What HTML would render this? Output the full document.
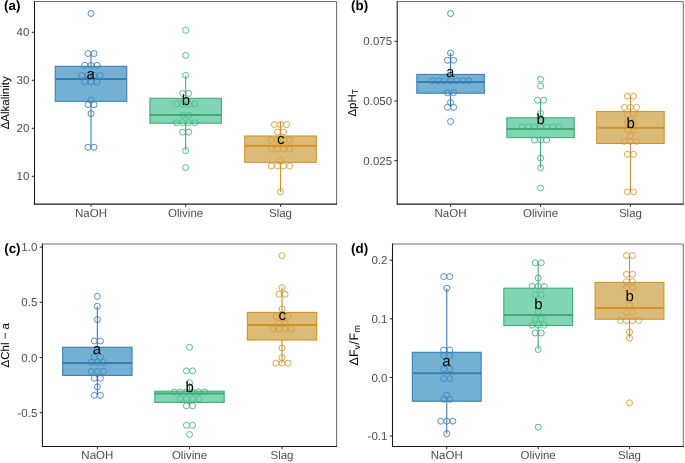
<!DOCTYPE html><html><head><meta charset="utf-8"><style>
html,body{margin:0;padding:0;background:#fff;width:685px;height:463px;overflow:hidden}
svg{display:block;will-change:transform}
text{font-family:"Liberation Sans", sans-serif;text-rendering:geometricPrecision}
</style></head><body>
<svg width="685" height="463" viewBox="0 0 685 463">
<rect x="0" y="0" width="685" height="463" fill="#fff"/>
<circle cx="91" cy="13.5" r="3" fill="none" stroke="#3f80c0" stroke-width="0.9"/>
<circle cx="87.95" cy="53.5" r="3" fill="none" stroke="#3f80c0" stroke-width="0.9"/>
<circle cx="94.05" cy="53.5" r="3" fill="none" stroke="#3f80c0" stroke-width="0.9"/>
<circle cx="84.9" cy="65.3" r="3" fill="none" stroke="#3f80c0" stroke-width="0.9"/>
<circle cx="91" cy="65.3" r="3" fill="none" stroke="#3f80c0" stroke-width="0.9"/>
<circle cx="97.1" cy="65.3" r="3" fill="none" stroke="#3f80c0" stroke-width="0.9"/>
<circle cx="81.85" cy="75.5" r="3" fill="none" stroke="#3f80c0" stroke-width="0.9"/>
<circle cx="87.95" cy="75.5" r="3" fill="none" stroke="#3f80c0" stroke-width="0.9"/>
<circle cx="94.05" cy="75.5" r="3" fill="none" stroke="#3f80c0" stroke-width="0.9"/>
<circle cx="100.15" cy="75.5" r="3" fill="none" stroke="#3f80c0" stroke-width="0.9"/>
<circle cx="84.9" cy="82" r="3" fill="none" stroke="#3f80c0" stroke-width="0.9"/>
<circle cx="91" cy="82" r="3" fill="none" stroke="#3f80c0" stroke-width="0.9"/>
<circle cx="97.1" cy="82" r="3" fill="none" stroke="#3f80c0" stroke-width="0.9"/>
<circle cx="91" cy="100" r="3" fill="none" stroke="#3f80c0" stroke-width="0.9"/>
<circle cx="87.95" cy="104.6" r="3" fill="none" stroke="#3f80c0" stroke-width="0.9"/>
<circle cx="94.05" cy="104.6" r="3" fill="none" stroke="#3f80c0" stroke-width="0.9"/>
<circle cx="91" cy="113.6" r="3" fill="none" stroke="#3f80c0" stroke-width="0.9"/>
<circle cx="87.95" cy="147.3" r="3" fill="none" stroke="#3f80c0" stroke-width="0.9"/>
<circle cx="94.05" cy="147.3" r="3" fill="none" stroke="#3f80c0" stroke-width="0.9"/>
<line x1="91" y1="53.5" x2="91" y2="66.3" stroke="#3a7db6" stroke-width="1.1"/>
<line x1="91" y1="101.3" x2="91" y2="147.1" stroke="#3a7db6" stroke-width="1.1"/>
<rect x="55.25" y="66.3" width="71.5" height="35" fill="#388ebf" fill-opacity="0.7"/>
<rect x="55.25" y="66.3" width="71.5" height="35" fill="none" stroke="#3a7db6" stroke-width="1.1"/>
<line x1="55.25" y1="78.9" x2="126.75" y2="78.9" stroke="#3a7db6" stroke-width="2"/>
<text x="90.6" y="79.3" font-size="15" text-anchor="middle" fill="#000">a</text>
<circle cx="185.65" cy="30.3" r="3" fill="none" stroke="#48b282" stroke-width="0.9"/>
<circle cx="185.65" cy="55.4" r="3" fill="none" stroke="#48b282" stroke-width="0.9"/>
<circle cx="185.65" cy="75.4" r="3" fill="none" stroke="#48b282" stroke-width="0.9"/>
<circle cx="182.6" cy="93.4" r="3" fill="none" stroke="#48b282" stroke-width="0.9"/>
<circle cx="188.7" cy="93.4" r="3" fill="none" stroke="#48b282" stroke-width="0.9"/>
<circle cx="176.5" cy="104" r="3" fill="none" stroke="#48b282" stroke-width="0.9"/>
<circle cx="182.6" cy="104" r="3" fill="none" stroke="#48b282" stroke-width="0.9"/>
<circle cx="188.7" cy="104" r="3" fill="none" stroke="#48b282" stroke-width="0.9"/>
<circle cx="194.8" cy="104" r="3" fill="none" stroke="#48b282" stroke-width="0.9"/>
<circle cx="182.6" cy="115.3" r="3" fill="none" stroke="#48b282" stroke-width="0.9"/>
<circle cx="188.7" cy="115.3" r="3" fill="none" stroke="#48b282" stroke-width="0.9"/>
<circle cx="176.5" cy="122.7" r="3" fill="none" stroke="#48b282" stroke-width="0.9"/>
<circle cx="182.6" cy="122.7" r="3" fill="none" stroke="#48b282" stroke-width="0.9"/>
<circle cx="188.7" cy="122.7" r="3" fill="none" stroke="#48b282" stroke-width="0.9"/>
<circle cx="194.8" cy="122.7" r="3" fill="none" stroke="#48b282" stroke-width="0.9"/>
<circle cx="182.6" cy="132.2" r="3" fill="none" stroke="#48b282" stroke-width="0.9"/>
<circle cx="188.7" cy="132.2" r="3" fill="none" stroke="#48b282" stroke-width="0.9"/>
<circle cx="185.65" cy="150.6" r="3" fill="none" stroke="#48b282" stroke-width="0.9"/>
<circle cx="185.65" cy="167.6" r="3" fill="none" stroke="#48b282" stroke-width="0.9"/>
<line x1="185.65" y1="75.4" x2="185.65" y2="98.3" stroke="#46aa78" stroke-width="1.1"/>
<line x1="185.65" y1="123.2" x2="185.65" y2="150.6" stroke="#46aa78" stroke-width="1.1"/>
<rect x="149.9" y="98.3" width="71.5" height="24.9" fill="#4ac392" fill-opacity="0.7"/>
<rect x="149.9" y="98.3" width="71.5" height="24.9" fill="none" stroke="#46aa78" stroke-width="1.1"/>
<line x1="149.9" y1="114.9" x2="221.4" y2="114.9" stroke="#46aa78" stroke-width="2"/>
<text x="185.85" y="104.6" font-size="15" text-anchor="middle" fill="#000">b</text>
<circle cx="274.4" cy="124.5" r="3" fill="none" stroke="#d89a38" stroke-width="0.9"/>
<circle cx="280.5" cy="124.5" r="3" fill="none" stroke="#d89a38" stroke-width="0.9"/>
<circle cx="286.6" cy="124.5" r="3" fill="none" stroke="#d89a38" stroke-width="0.9"/>
<circle cx="277.45" cy="132" r="3" fill="none" stroke="#d89a38" stroke-width="0.9"/>
<circle cx="283.55" cy="132" r="3" fill="none" stroke="#d89a38" stroke-width="0.9"/>
<circle cx="271.35" cy="140.3" r="3" fill="none" stroke="#d89a38" stroke-width="0.9"/>
<circle cx="277.45" cy="140.3" r="3" fill="none" stroke="#d89a38" stroke-width="0.9"/>
<circle cx="283.55" cy="140.3" r="3" fill="none" stroke="#d89a38" stroke-width="0.9"/>
<circle cx="289.65" cy="140.3" r="3" fill="none" stroke="#d89a38" stroke-width="0.9"/>
<circle cx="271.35" cy="149.1" r="3" fill="none" stroke="#d89a38" stroke-width="0.9"/>
<circle cx="277.45" cy="149.1" r="3" fill="none" stroke="#d89a38" stroke-width="0.9"/>
<circle cx="283.55" cy="149.1" r="3" fill="none" stroke="#d89a38" stroke-width="0.9"/>
<circle cx="289.65" cy="149.1" r="3" fill="none" stroke="#d89a38" stroke-width="0.9"/>
<circle cx="280.5" cy="160.4" r="3" fill="none" stroke="#d89a38" stroke-width="0.9"/>
<circle cx="271.35" cy="166" r="3" fill="none" stroke="#d89a38" stroke-width="0.9"/>
<circle cx="277.45" cy="166" r="3" fill="none" stroke="#d89a38" stroke-width="0.9"/>
<circle cx="283.55" cy="166" r="3" fill="none" stroke="#d89a38" stroke-width="0.9"/>
<circle cx="289.65" cy="166" r="3" fill="none" stroke="#d89a38" stroke-width="0.9"/>
<circle cx="280.5" cy="191.9" r="3" fill="none" stroke="#d89a38" stroke-width="0.9"/>
<line x1="280.5" y1="121.5" x2="280.5" y2="136" stroke="#d2912a" stroke-width="1.1"/>
<line x1="280.5" y1="162.3" x2="280.5" y2="191.9" stroke="#d2912a" stroke-width="1.1"/>
<rect x="244.75" y="136" width="71.5" height="26.3" fill="#cd9e3e" fill-opacity="0.7"/>
<rect x="244.75" y="136" width="71.5" height="26.3" fill="none" stroke="#d2912a" stroke-width="1.1"/>
<line x1="244.75" y1="145.8" x2="316.25" y2="145.8" stroke="#d2912a" stroke-width="2"/>
<text x="280.7" y="144.4" font-size="15" text-anchor="middle" fill="#000">c</text>
<line x1="34.5" y1="1.5" x2="336.6" y2="1.5" stroke="#707070" stroke-width="1.07"/>
<line x1="336.6" y1="1.5" x2="336.6" y2="204.1" stroke="#707070" stroke-width="1.07"/>
<line x1="34.5" y1="1" x2="34.5" y2="204.6" stroke="#1a1a1a" stroke-width="1.07"/>
<line x1="34" y1="204.1" x2="337.1" y2="204.1" stroke="#1a1a1a" stroke-width="1.07"/>
<line x1="31.7" y1="32.3" x2="34.5" y2="32.3" stroke="#333" stroke-width="1.07"/>
<text x="29.4" y="36.4" font-size="11.5" text-anchor="end" fill="#4d4d4d">40</text>
<line x1="31.7" y1="80.3" x2="34.5" y2="80.3" stroke="#333" stroke-width="1.07"/>
<text x="29.4" y="84.4" font-size="11.5" text-anchor="end" fill="#4d4d4d">30</text>
<line x1="31.7" y1="128.3" x2="34.5" y2="128.3" stroke="#333" stroke-width="1.07"/>
<text x="29.4" y="132.4" font-size="11.5" text-anchor="end" fill="#4d4d4d">20</text>
<line x1="31.7" y1="176.3" x2="34.5" y2="176.3" stroke="#333" stroke-width="1.07"/>
<text x="29.4" y="180.4" font-size="11.5" text-anchor="end" fill="#4d4d4d">10</text>
<line x1="91" y1="204.1" x2="91" y2="206.8" stroke="#333" stroke-width="1.07"/>
<text x="91" y="217" font-size="11.5" text-anchor="middle" fill="#4d4d4d">NaOH</text>
<line x1="185.65" y1="204.1" x2="185.65" y2="206.8" stroke="#333" stroke-width="1.07"/>
<text x="185.65" y="217" font-size="11.5" text-anchor="middle" fill="#4d4d4d">Olivine</text>
<line x1="280.5" y1="204.1" x2="280.5" y2="206.8" stroke="#333" stroke-width="1.07"/>
<text x="280.5" y="217" font-size="11.5" text-anchor="middle" fill="#4d4d4d">Slag</text>
<text x="4.1" y="10" font-size="13.4" font-weight="bold" fill="#000">(a)</text>
<text transform="translate(9.2,102.8) rotate(-90)" font-size="11.5" text-anchor="middle" fill="#000">ΔAlkalinity</text>
<circle cx="450.55" cy="13.5" r="3" fill="none" stroke="#3f80c0" stroke-width="0.9"/>
<circle cx="450.55" cy="52.9" r="3" fill="none" stroke="#3f80c0" stroke-width="0.9"/>
<circle cx="447.5" cy="60.3" r="3" fill="none" stroke="#3f80c0" stroke-width="0.9"/>
<circle cx="453.6" cy="60.3" r="3" fill="none" stroke="#3f80c0" stroke-width="0.9"/>
<circle cx="432.25" cy="80.8" r="3" fill="none" stroke="#3f80c0" stroke-width="0.9"/>
<circle cx="438.35" cy="80.8" r="3" fill="none" stroke="#3f80c0" stroke-width="0.9"/>
<circle cx="444.45" cy="80.8" r="3" fill="none" stroke="#3f80c0" stroke-width="0.9"/>
<circle cx="450.55" cy="80.8" r="3" fill="none" stroke="#3f80c0" stroke-width="0.9"/>
<circle cx="456.65" cy="80.8" r="3" fill="none" stroke="#3f80c0" stroke-width="0.9"/>
<circle cx="462.75" cy="80.8" r="3" fill="none" stroke="#3f80c0" stroke-width="0.9"/>
<circle cx="468.85" cy="80.8" r="3" fill="none" stroke="#3f80c0" stroke-width="0.9"/>
<circle cx="447.5" cy="92.7" r="3" fill="none" stroke="#3f80c0" stroke-width="0.9"/>
<circle cx="453.6" cy="92.7" r="3" fill="none" stroke="#3f80c0" stroke-width="0.9"/>
<circle cx="450.55" cy="102.5" r="3" fill="none" stroke="#3f80c0" stroke-width="0.9"/>
<circle cx="447.5" cy="107.4" r="3" fill="none" stroke="#3f80c0" stroke-width="0.9"/>
<circle cx="453.6" cy="107.4" r="3" fill="none" stroke="#3f80c0" stroke-width="0.9"/>
<circle cx="450.55" cy="121.5" r="3" fill="none" stroke="#3f80c0" stroke-width="0.9"/>
<line x1="450.55" y1="52.9" x2="450.55" y2="74.4" stroke="#3a7db6" stroke-width="1.1"/>
<line x1="450.55" y1="93.2" x2="450.55" y2="107.4" stroke="#3a7db6" stroke-width="1.1"/>
<rect x="416.85" y="74.4" width="67.4" height="18.8" fill="#388ebf" fill-opacity="0.7"/>
<rect x="416.85" y="74.4" width="67.4" height="18.8" fill="none" stroke="#3a7db6" stroke-width="1.1"/>
<line x1="416.85" y1="81.95" x2="484.25" y2="81.95" stroke="#3a7db6" stroke-width="2"/>
<text x="450.15" y="76.6" font-size="15" text-anchor="middle" fill="#000">a</text>
<circle cx="540.55" cy="79.2" r="3" fill="none" stroke="#48b282" stroke-width="0.9"/>
<circle cx="540.55" cy="86" r="3" fill="none" stroke="#48b282" stroke-width="0.9"/>
<circle cx="537.5" cy="100.2" r="3" fill="none" stroke="#48b282" stroke-width="0.9"/>
<circle cx="543.6" cy="100.2" r="3" fill="none" stroke="#48b282" stroke-width="0.9"/>
<circle cx="540.55" cy="113.4" r="3" fill="none" stroke="#48b282" stroke-width="0.9"/>
<circle cx="522.25" cy="126.9" r="3" fill="none" stroke="#48b282" stroke-width="0.9"/>
<circle cx="528.35" cy="126.9" r="3" fill="none" stroke="#48b282" stroke-width="0.9"/>
<circle cx="534.45" cy="126.9" r="3" fill="none" stroke="#48b282" stroke-width="0.9"/>
<circle cx="540.55" cy="126.9" r="3" fill="none" stroke="#48b282" stroke-width="0.9"/>
<circle cx="546.65" cy="126.9" r="3" fill="none" stroke="#48b282" stroke-width="0.9"/>
<circle cx="552.75" cy="126.9" r="3" fill="none" stroke="#48b282" stroke-width="0.9"/>
<circle cx="558.85" cy="126.9" r="3" fill="none" stroke="#48b282" stroke-width="0.9"/>
<circle cx="534.45" cy="140" r="3" fill="none" stroke="#48b282" stroke-width="0.9"/>
<circle cx="540.55" cy="140" r="3" fill="none" stroke="#48b282" stroke-width="0.9"/>
<circle cx="546.65" cy="140" r="3" fill="none" stroke="#48b282" stroke-width="0.9"/>
<circle cx="540.55" cy="158.1" r="3" fill="none" stroke="#48b282" stroke-width="0.9"/>
<circle cx="540.55" cy="167.7" r="3" fill="none" stroke="#48b282" stroke-width="0.9"/>
<circle cx="540.55" cy="188.1" r="3" fill="none" stroke="#48b282" stroke-width="0.9"/>
<line x1="540.55" y1="100.2" x2="540.55" y2="117.8" stroke="#46aa78" stroke-width="1.1"/>
<line x1="540.55" y1="137.6" x2="540.55" y2="167.7" stroke="#46aa78" stroke-width="1.1"/>
<rect x="506.85" y="117.8" width="67.4" height="19.8" fill="#4ac392" fill-opacity="0.7"/>
<rect x="506.85" y="117.8" width="67.4" height="19.8" fill="none" stroke="#46aa78" stroke-width="1.1"/>
<line x1="506.85" y1="128.9" x2="574.25" y2="128.9" stroke="#46aa78" stroke-width="2"/>
<text x="540.75" y="124.1" font-size="15" text-anchor="middle" fill="#000">b</text>
<circle cx="627.4" cy="96.2" r="3" fill="none" stroke="#d89a38" stroke-width="0.9"/>
<circle cx="633.5" cy="96.2" r="3" fill="none" stroke="#d89a38" stroke-width="0.9"/>
<circle cx="624.35" cy="107.3" r="3" fill="none" stroke="#d89a38" stroke-width="0.9"/>
<circle cx="630.45" cy="107.3" r="3" fill="none" stroke="#d89a38" stroke-width="0.9"/>
<circle cx="636.55" cy="107.3" r="3" fill="none" stroke="#d89a38" stroke-width="0.9"/>
<circle cx="627.4" cy="114.4" r="3" fill="none" stroke="#d89a38" stroke-width="0.9"/>
<circle cx="633.5" cy="114.4" r="3" fill="none" stroke="#d89a38" stroke-width="0.9"/>
<circle cx="627.4" cy="122.2" r="3" fill="none" stroke="#d89a38" stroke-width="0.9"/>
<circle cx="633.5" cy="122.2" r="3" fill="none" stroke="#d89a38" stroke-width="0.9"/>
<circle cx="627.4" cy="129.9" r="3" fill="none" stroke="#d89a38" stroke-width="0.9"/>
<circle cx="633.5" cy="129.9" r="3" fill="none" stroke="#d89a38" stroke-width="0.9"/>
<circle cx="630.45" cy="136.3" r="3" fill="none" stroke="#d89a38" stroke-width="0.9"/>
<circle cx="624.35" cy="141.3" r="3" fill="none" stroke="#d89a38" stroke-width="0.9"/>
<circle cx="630.45" cy="141.3" r="3" fill="none" stroke="#d89a38" stroke-width="0.9"/>
<circle cx="636.55" cy="141.3" r="3" fill="none" stroke="#d89a38" stroke-width="0.9"/>
<circle cx="627.4" cy="154.3" r="3" fill="none" stroke="#d89a38" stroke-width="0.9"/>
<circle cx="633.5" cy="154.3" r="3" fill="none" stroke="#d89a38" stroke-width="0.9"/>
<circle cx="627.4" cy="191.9" r="3" fill="none" stroke="#d89a38" stroke-width="0.9"/>
<circle cx="633.5" cy="191.9" r="3" fill="none" stroke="#d89a38" stroke-width="0.9"/>
<line x1="630.45" y1="96.2" x2="630.45" y2="111.5" stroke="#d2912a" stroke-width="1.1"/>
<line x1="630.45" y1="143.5" x2="630.45" y2="191.9" stroke="#d2912a" stroke-width="1.1"/>
<rect x="596.75" y="111.5" width="67.4" height="32" fill="#cd9e3e" fill-opacity="0.7"/>
<rect x="596.75" y="111.5" width="67.4" height="32" fill="none" stroke="#d2912a" stroke-width="1.1"/>
<line x1="596.75" y1="127.8" x2="664.15" y2="127.8" stroke="#d2912a" stroke-width="2"/>
<text x="630.65" y="127.5" font-size="15" text-anchor="middle" fill="#000">b</text>
<line x1="397.2" y1="1.5" x2="683.3" y2="1.5" stroke="#707070" stroke-width="1.07"/>
<line x1="683.3" y1="1.5" x2="683.3" y2="204.1" stroke="#707070" stroke-width="1.07"/>
<line x1="397.2" y1="1" x2="397.2" y2="204.6" stroke="#1a1a1a" stroke-width="1.07"/>
<line x1="396.7" y1="204.1" x2="683.8" y2="204.1" stroke="#1a1a1a" stroke-width="1.07"/>
<line x1="394.4" y1="41.35" x2="397.2" y2="41.35" stroke="#333" stroke-width="1.07"/>
<text x="392.1" y="45.45" font-size="11.5" text-anchor="end" fill="#4d4d4d">0.075</text>
<line x1="394.4" y1="101" x2="397.2" y2="101" stroke="#333" stroke-width="1.07"/>
<text x="392.1" y="105.1" font-size="11.5" text-anchor="end" fill="#4d4d4d">0.050</text>
<line x1="394.4" y1="160.6" x2="397.2" y2="160.6" stroke="#333" stroke-width="1.07"/>
<text x="392.1" y="164.7" font-size="11.5" text-anchor="end" fill="#4d4d4d">0.025</text>
<line x1="450.55" y1="204.1" x2="450.55" y2="206.8" stroke="#333" stroke-width="1.07"/>
<text x="450.55" y="217" font-size="11.5" text-anchor="middle" fill="#4d4d4d">NaOH</text>
<line x1="540.55" y1="204.1" x2="540.55" y2="206.8" stroke="#333" stroke-width="1.07"/>
<text x="540.55" y="217" font-size="11.5" text-anchor="middle" fill="#4d4d4d">Olivine</text>
<line x1="630.45" y1="204.1" x2="630.45" y2="206.8" stroke="#333" stroke-width="1.07"/>
<text x="630.45" y="217" font-size="11.5" text-anchor="middle" fill="#4d4d4d">Slag</text>
<text x="351.1" y="10" font-size="13.4" font-weight="bold" fill="#000">(b)</text>
<text transform="translate(356,102.8) rotate(-90)" font-size="11.5" text-anchor="middle" fill="#000">ΔpH<tspan font-size="8.5" dy="2.1">T</tspan></text>
<circle cx="97.35" cy="296.3" r="3" fill="none" stroke="#3f80c0" stroke-width="0.9"/>
<circle cx="97.35" cy="306.3" r="3" fill="none" stroke="#3f80c0" stroke-width="0.9"/>
<circle cx="97.35" cy="319.6" r="3" fill="none" stroke="#3f80c0" stroke-width="0.9"/>
<circle cx="94.3" cy="341" r="3" fill="none" stroke="#3f80c0" stroke-width="0.9"/>
<circle cx="100.4" cy="341" r="3" fill="none" stroke="#3f80c0" stroke-width="0.9"/>
<circle cx="94.3" cy="357" r="3" fill="none" stroke="#3f80c0" stroke-width="0.9"/>
<circle cx="100.4" cy="357" r="3" fill="none" stroke="#3f80c0" stroke-width="0.9"/>
<circle cx="91.25" cy="362.4" r="3" fill="none" stroke="#3f80c0" stroke-width="0.9"/>
<circle cx="97.35" cy="362.4" r="3" fill="none" stroke="#3f80c0" stroke-width="0.9"/>
<circle cx="103.45" cy="362.4" r="3" fill="none" stroke="#3f80c0" stroke-width="0.9"/>
<circle cx="91.25" cy="371.4" r="3" fill="none" stroke="#3f80c0" stroke-width="0.9"/>
<circle cx="97.35" cy="371.4" r="3" fill="none" stroke="#3f80c0" stroke-width="0.9"/>
<circle cx="103.45" cy="371.4" r="3" fill="none" stroke="#3f80c0" stroke-width="0.9"/>
<circle cx="94.3" cy="378.3" r="3" fill="none" stroke="#3f80c0" stroke-width="0.9"/>
<circle cx="100.4" cy="378.3" r="3" fill="none" stroke="#3f80c0" stroke-width="0.9"/>
<circle cx="97.35" cy="386.8" r="3" fill="none" stroke="#3f80c0" stroke-width="0.9"/>
<circle cx="94.3" cy="395.4" r="3" fill="none" stroke="#3f80c0" stroke-width="0.9"/>
<circle cx="100.4" cy="395.4" r="3" fill="none" stroke="#3f80c0" stroke-width="0.9"/>
<line x1="97.35" y1="306.3" x2="97.35" y2="347.3" stroke="#3a7db6" stroke-width="1.1"/>
<line x1="97.35" y1="375.4" x2="97.35" y2="395.4" stroke="#3a7db6" stroke-width="1.1"/>
<rect x="62.7" y="347.3" width="69.3" height="28.1" fill="#388ebf" fill-opacity="0.7"/>
<rect x="62.7" y="347.3" width="69.3" height="28.1" fill="none" stroke="#3a7db6" stroke-width="1.1"/>
<line x1="62.7" y1="362.9" x2="132" y2="362.9" stroke="#3a7db6" stroke-width="2"/>
<text x="96.95" y="354.3" font-size="15" text-anchor="middle" fill="#000">a</text>
<circle cx="189.5" cy="347.3" r="3" fill="none" stroke="#48b282" stroke-width="0.9"/>
<circle cx="186.45" cy="370.9" r="3" fill="none" stroke="#48b282" stroke-width="0.9"/>
<circle cx="192.55" cy="370.9" r="3" fill="none" stroke="#48b282" stroke-width="0.9"/>
<circle cx="189.5" cy="382.7" r="3" fill="none" stroke="#48b282" stroke-width="0.9"/>
<circle cx="174.25" cy="392" r="3" fill="none" stroke="#48b282" stroke-width="0.9"/>
<circle cx="180.35" cy="392" r="3" fill="none" stroke="#48b282" stroke-width="0.9"/>
<circle cx="186.45" cy="392" r="3" fill="none" stroke="#48b282" stroke-width="0.9"/>
<circle cx="192.55" cy="392" r="3" fill="none" stroke="#48b282" stroke-width="0.9"/>
<circle cx="198.65" cy="392" r="3" fill="none" stroke="#48b282" stroke-width="0.9"/>
<circle cx="204.75" cy="392" r="3" fill="none" stroke="#48b282" stroke-width="0.9"/>
<circle cx="180.35" cy="398.7" r="3" fill="none" stroke="#48b282" stroke-width="0.9"/>
<circle cx="186.45" cy="398.7" r="3" fill="none" stroke="#48b282" stroke-width="0.9"/>
<circle cx="192.55" cy="398.7" r="3" fill="none" stroke="#48b282" stroke-width="0.9"/>
<circle cx="198.65" cy="398.7" r="3" fill="none" stroke="#48b282" stroke-width="0.9"/>
<circle cx="186.45" cy="405.8" r="3" fill="none" stroke="#48b282" stroke-width="0.9"/>
<circle cx="192.55" cy="405.8" r="3" fill="none" stroke="#48b282" stroke-width="0.9"/>
<circle cx="186.45" cy="425.3" r="3" fill="none" stroke="#48b282" stroke-width="0.9"/>
<circle cx="192.55" cy="425.3" r="3" fill="none" stroke="#48b282" stroke-width="0.9"/>
<circle cx="189.5" cy="434.5" r="3" fill="none" stroke="#48b282" stroke-width="0.9"/>
<line x1="189.5" y1="382.7" x2="189.5" y2="391.2" stroke="#46aa78" stroke-width="1.1"/>
<line x1="189.5" y1="402.4" x2="189.5" y2="405.8" stroke="#46aa78" stroke-width="1.1"/>
<rect x="154.85" y="391.2" width="69.3" height="11.2" fill="#4ac392" fill-opacity="0.7"/>
<rect x="154.85" y="391.2" width="69.3" height="11.2" fill="none" stroke="#46aa78" stroke-width="1.1"/>
<line x1="154.85" y1="393.6" x2="224.15" y2="393.6" stroke="#46aa78" stroke-width="2"/>
<text x="189.7" y="391.9" font-size="15" text-anchor="middle" fill="#000">b</text>
<circle cx="282" cy="255.6" r="3" fill="none" stroke="#d89a38" stroke-width="0.9"/>
<circle cx="282" cy="287.6" r="3" fill="none" stroke="#d89a38" stroke-width="0.9"/>
<circle cx="278.95" cy="294.3" r="3" fill="none" stroke="#d89a38" stroke-width="0.9"/>
<circle cx="285.05" cy="294.3" r="3" fill="none" stroke="#d89a38" stroke-width="0.9"/>
<circle cx="282" cy="309" r="3" fill="none" stroke="#d89a38" stroke-width="0.9"/>
<circle cx="275.9" cy="316.4" r="3" fill="none" stroke="#d89a38" stroke-width="0.9"/>
<circle cx="282" cy="316.4" r="3" fill="none" stroke="#d89a38" stroke-width="0.9"/>
<circle cx="288.1" cy="316.4" r="3" fill="none" stroke="#d89a38" stroke-width="0.9"/>
<circle cx="278.95" cy="323.3" r="3" fill="none" stroke="#d89a38" stroke-width="0.9"/>
<circle cx="285.05" cy="323.3" r="3" fill="none" stroke="#d89a38" stroke-width="0.9"/>
<circle cx="272.85" cy="329" r="3" fill="none" stroke="#d89a38" stroke-width="0.9"/>
<circle cx="278.95" cy="329" r="3" fill="none" stroke="#d89a38" stroke-width="0.9"/>
<circle cx="285.05" cy="329" r="3" fill="none" stroke="#d89a38" stroke-width="0.9"/>
<circle cx="291.15" cy="329" r="3" fill="none" stroke="#d89a38" stroke-width="0.9"/>
<circle cx="282" cy="348.1" r="3" fill="none" stroke="#d89a38" stroke-width="0.9"/>
<circle cx="282" cy="357.6" r="3" fill="none" stroke="#d89a38" stroke-width="0.9"/>
<circle cx="275.9" cy="363.1" r="3" fill="none" stroke="#d89a38" stroke-width="0.9"/>
<circle cx="282" cy="363.1" r="3" fill="none" stroke="#d89a38" stroke-width="0.9"/>
<circle cx="288.1" cy="363.1" r="3" fill="none" stroke="#d89a38" stroke-width="0.9"/>
<line x1="282" y1="287.6" x2="282" y2="312.4" stroke="#d2912a" stroke-width="1.1"/>
<line x1="282" y1="340" x2="282" y2="363.1" stroke="#d2912a" stroke-width="1.1"/>
<rect x="247.35" y="312.4" width="69.3" height="27.6" fill="#cd9e3e" fill-opacity="0.7"/>
<rect x="247.35" y="312.4" width="69.3" height="27.6" fill="none" stroke="#d2912a" stroke-width="1.1"/>
<line x1="247.35" y1="325" x2="316.65" y2="325" stroke="#d2912a" stroke-width="2"/>
<text x="282.2" y="319.7" font-size="15" text-anchor="middle" fill="#000">c</text>
<line x1="42.4" y1="244" x2="336.6" y2="244" stroke="#707070" stroke-width="1.07"/>
<line x1="336.6" y1="244" x2="336.6" y2="446.55" stroke="#707070" stroke-width="1.07"/>
<line x1="42.4" y1="243.5" x2="42.4" y2="447.05" stroke="#1a1a1a" stroke-width="1.07"/>
<line x1="41.9" y1="446.55" x2="337.1" y2="446.55" stroke="#1a1a1a" stroke-width="1.07"/>
<line x1="39.6" y1="247.1" x2="42.4" y2="247.1" stroke="#333" stroke-width="1.07"/>
<text x="37.3" y="251.2" font-size="11.5" text-anchor="end" fill="#4d4d4d">1.0</text>
<line x1="39.6" y1="302.3" x2="42.4" y2="302.3" stroke="#333" stroke-width="1.07"/>
<text x="37.3" y="306.4" font-size="11.5" text-anchor="end" fill="#4d4d4d">0.5</text>
<line x1="39.6" y1="357.5" x2="42.4" y2="357.5" stroke="#333" stroke-width="1.07"/>
<text x="37.3" y="361.6" font-size="11.5" text-anchor="end" fill="#4d4d4d">0.0</text>
<line x1="39.6" y1="412.7" x2="42.4" y2="412.7" stroke="#333" stroke-width="1.07"/>
<text x="37.3" y="416.8" font-size="11.5" text-anchor="end" fill="#4d4d4d">-0.5</text>
<line x1="97.35" y1="446.55" x2="97.35" y2="449.25" stroke="#333" stroke-width="1.07"/>
<text x="97.35" y="459.45" font-size="11.5" text-anchor="middle" fill="#4d4d4d">NaOH</text>
<line x1="189.5" y1="446.55" x2="189.5" y2="449.25" stroke="#333" stroke-width="1.07"/>
<text x="189.5" y="459.45" font-size="11.5" text-anchor="middle" fill="#4d4d4d">Olivine</text>
<line x1="282" y1="446.55" x2="282" y2="449.25" stroke="#333" stroke-width="1.07"/>
<text x="282" y="459.45" font-size="11.5" text-anchor="middle" fill="#4d4d4d">Slag</text>
<text x="4.2" y="253" font-size="13.4" font-weight="bold" fill="#000">(c)</text>
<text transform="translate(9,345.27) rotate(-90)" font-size="11.5" text-anchor="middle" fill="#000">ΔChl − a</text>
<circle cx="443.7" cy="276.5" r="3" fill="none" stroke="#3f80c0" stroke-width="0.9"/>
<circle cx="449.8" cy="276.5" r="3" fill="none" stroke="#3f80c0" stroke-width="0.9"/>
<circle cx="446.75" cy="288.2" r="3" fill="none" stroke="#3f80c0" stroke-width="0.9"/>
<circle cx="443.7" cy="350" r="3" fill="none" stroke="#3f80c0" stroke-width="0.9"/>
<circle cx="449.8" cy="350" r="3" fill="none" stroke="#3f80c0" stroke-width="0.9"/>
<circle cx="443.7" cy="355.5" r="3" fill="none" stroke="#3f80c0" stroke-width="0.9"/>
<circle cx="449.8" cy="355.5" r="3" fill="none" stroke="#3f80c0" stroke-width="0.9"/>
<circle cx="443.7" cy="368.9" r="3" fill="none" stroke="#3f80c0" stroke-width="0.9"/>
<circle cx="449.8" cy="368.9" r="3" fill="none" stroke="#3f80c0" stroke-width="0.9"/>
<circle cx="443.7" cy="378.6" r="3" fill="none" stroke="#3f80c0" stroke-width="0.9"/>
<circle cx="449.8" cy="378.6" r="3" fill="none" stroke="#3f80c0" stroke-width="0.9"/>
<circle cx="446.75" cy="395" r="3" fill="none" stroke="#3f80c0" stroke-width="0.9"/>
<circle cx="443.7" cy="399.3" r="3" fill="none" stroke="#3f80c0" stroke-width="0.9"/>
<circle cx="449.8" cy="399.3" r="3" fill="none" stroke="#3f80c0" stroke-width="0.9"/>
<circle cx="440.65" cy="421.2" r="3" fill="none" stroke="#3f80c0" stroke-width="0.9"/>
<circle cx="446.75" cy="421.2" r="3" fill="none" stroke="#3f80c0" stroke-width="0.9"/>
<circle cx="452.85" cy="421.2" r="3" fill="none" stroke="#3f80c0" stroke-width="0.9"/>
<circle cx="446.75" cy="433.7" r="3" fill="none" stroke="#3f80c0" stroke-width="0.9"/>
<line x1="446.75" y1="288.2" x2="446.75" y2="352.3" stroke="#3a7db6" stroke-width="1.1"/>
<line x1="446.75" y1="401.2" x2="446.75" y2="433.7" stroke="#3a7db6" stroke-width="1.1"/>
<rect x="412.35" y="352.3" width="68.8" height="48.9" fill="#388ebf" fill-opacity="0.7"/>
<rect x="412.35" y="352.3" width="68.8" height="48.9" fill="none" stroke="#3a7db6" stroke-width="1.1"/>
<line x1="412.35" y1="373.2" x2="481.15" y2="373.2" stroke="#3a7db6" stroke-width="2"/>
<text x="446.35" y="365.6" font-size="15" text-anchor="middle" fill="#000">a</text>
<circle cx="535.15" cy="262.8" r="3" fill="none" stroke="#48b282" stroke-width="0.9"/>
<circle cx="541.25" cy="262.8" r="3" fill="none" stroke="#48b282" stroke-width="0.9"/>
<circle cx="538.2" cy="278.1" r="3" fill="none" stroke="#48b282" stroke-width="0.9"/>
<circle cx="532.1" cy="286.4" r="3" fill="none" stroke="#48b282" stroke-width="0.9"/>
<circle cx="538.2" cy="286.4" r="3" fill="none" stroke="#48b282" stroke-width="0.9"/>
<circle cx="544.3" cy="286.4" r="3" fill="none" stroke="#48b282" stroke-width="0.9"/>
<circle cx="535.15" cy="294.5" r="3" fill="none" stroke="#48b282" stroke-width="0.9"/>
<circle cx="541.25" cy="294.5" r="3" fill="none" stroke="#48b282" stroke-width="0.9"/>
<circle cx="538.2" cy="311.8" r="3" fill="none" stroke="#48b282" stroke-width="0.9"/>
<circle cx="535.15" cy="318.9" r="3" fill="none" stroke="#48b282" stroke-width="0.9"/>
<circle cx="541.25" cy="318.9" r="3" fill="none" stroke="#48b282" stroke-width="0.9"/>
<circle cx="532.1" cy="325.2" r="3" fill="none" stroke="#48b282" stroke-width="0.9"/>
<circle cx="538.2" cy="325.2" r="3" fill="none" stroke="#48b282" stroke-width="0.9"/>
<circle cx="544.3" cy="325.2" r="3" fill="none" stroke="#48b282" stroke-width="0.9"/>
<circle cx="535.15" cy="333" r="3" fill="none" stroke="#48b282" stroke-width="0.9"/>
<circle cx="541.25" cy="333" r="3" fill="none" stroke="#48b282" stroke-width="0.9"/>
<circle cx="538.2" cy="349.5" r="3" fill="none" stroke="#48b282" stroke-width="0.9"/>
<circle cx="538.2" cy="427.2" r="3" fill="none" stroke="#48b282" stroke-width="0.9"/>
<line x1="538.2" y1="262.8" x2="538.2" y2="288.2" stroke="#46aa78" stroke-width="1.1"/>
<line x1="538.2" y1="325.5" x2="538.2" y2="349.5" stroke="#46aa78" stroke-width="1.1"/>
<rect x="503.8" y="288.2" width="68.8" height="37.3" fill="#4ac392" fill-opacity="0.7"/>
<rect x="503.8" y="288.2" width="68.8" height="37.3" fill="none" stroke="#46aa78" stroke-width="1.1"/>
<line x1="503.8" y1="315" x2="572.6" y2="315" stroke="#46aa78" stroke-width="2"/>
<text x="538.4" y="308.9" font-size="15" text-anchor="middle" fill="#000">b</text>
<circle cx="626.45" cy="255.6" r="3" fill="none" stroke="#d89a38" stroke-width="0.9"/>
<circle cx="632.55" cy="255.6" r="3" fill="none" stroke="#d89a38" stroke-width="0.9"/>
<circle cx="626.45" cy="274.3" r="3" fill="none" stroke="#d89a38" stroke-width="0.9"/>
<circle cx="632.55" cy="274.3" r="3" fill="none" stroke="#d89a38" stroke-width="0.9"/>
<circle cx="626.45" cy="281.7" r="3" fill="none" stroke="#d89a38" stroke-width="0.9"/>
<circle cx="632.55" cy="281.7" r="3" fill="none" stroke="#d89a38" stroke-width="0.9"/>
<circle cx="626.45" cy="287.7" r="3" fill="none" stroke="#d89a38" stroke-width="0.9"/>
<circle cx="632.55" cy="287.7" r="3" fill="none" stroke="#d89a38" stroke-width="0.9"/>
<circle cx="629.5" cy="305" r="3" fill="none" stroke="#d89a38" stroke-width="0.9"/>
<circle cx="626.45" cy="312.5" r="3" fill="none" stroke="#d89a38" stroke-width="0.9"/>
<circle cx="632.55" cy="312.5" r="3" fill="none" stroke="#d89a38" stroke-width="0.9"/>
<circle cx="620.35" cy="320.5" r="3" fill="none" stroke="#d89a38" stroke-width="0.9"/>
<circle cx="626.45" cy="320.5" r="3" fill="none" stroke="#d89a38" stroke-width="0.9"/>
<circle cx="632.55" cy="320.5" r="3" fill="none" stroke="#d89a38" stroke-width="0.9"/>
<circle cx="638.65" cy="320.5" r="3" fill="none" stroke="#d89a38" stroke-width="0.9"/>
<circle cx="629.5" cy="331.9" r="3" fill="none" stroke="#d89a38" stroke-width="0.9"/>
<circle cx="629.5" cy="338.2" r="3" fill="none" stroke="#d89a38" stroke-width="0.9"/>
<circle cx="629.5" cy="402.8" r="3" fill="none" stroke="#d89a38" stroke-width="0.9"/>
<line x1="629.5" y1="255.6" x2="629.5" y2="282.4" stroke="#d2912a" stroke-width="1.1"/>
<line x1="629.5" y1="319.2" x2="629.5" y2="338.2" stroke="#d2912a" stroke-width="1.1"/>
<rect x="595.1" y="282.4" width="68.8" height="36.8" fill="#cd9e3e" fill-opacity="0.7"/>
<rect x="595.1" y="282.4" width="68.8" height="36.8" fill="none" stroke="#d2912a" stroke-width="1.1"/>
<line x1="595.1" y1="308" x2="663.9" y2="308" stroke="#d2912a" stroke-width="2"/>
<text x="629.7" y="301" font-size="15" text-anchor="middle" fill="#000">b</text>
<line x1="392.5" y1="244" x2="683.3" y2="244" stroke="#707070" stroke-width="1.07"/>
<line x1="683.3" y1="244" x2="683.3" y2="446.55" stroke="#707070" stroke-width="1.07"/>
<line x1="392.5" y1="243.5" x2="392.5" y2="447.05" stroke="#1a1a1a" stroke-width="1.07"/>
<line x1="392" y1="446.55" x2="683.8" y2="446.55" stroke="#1a1a1a" stroke-width="1.07"/>
<line x1="389.7" y1="260.2" x2="392.5" y2="260.2" stroke="#333" stroke-width="1.07"/>
<text x="387.4" y="264.3" font-size="11.5" text-anchor="end" fill="#4d4d4d">0.2</text>
<line x1="389.7" y1="318.8" x2="392.5" y2="318.8" stroke="#333" stroke-width="1.07"/>
<text x="387.4" y="322.9" font-size="11.5" text-anchor="end" fill="#4d4d4d">0.1</text>
<line x1="389.7" y1="377.4" x2="392.5" y2="377.4" stroke="#333" stroke-width="1.07"/>
<text x="387.4" y="381.5" font-size="11.5" text-anchor="end" fill="#4d4d4d">0.0</text>
<line x1="389.7" y1="436" x2="392.5" y2="436" stroke="#333" stroke-width="1.07"/>
<text x="387.4" y="440.1" font-size="11.5" text-anchor="end" fill="#4d4d4d">-0.1</text>
<line x1="446.75" y1="446.55" x2="446.75" y2="449.25" stroke="#333" stroke-width="1.07"/>
<text x="446.75" y="459.45" font-size="11.5" text-anchor="middle" fill="#4d4d4d">NaOH</text>
<line x1="538.2" y1="446.55" x2="538.2" y2="449.25" stroke="#333" stroke-width="1.07"/>
<text x="538.2" y="459.45" font-size="11.5" text-anchor="middle" fill="#4d4d4d">Olivine</text>
<line x1="629.5" y1="446.55" x2="629.5" y2="449.25" stroke="#333" stroke-width="1.07"/>
<text x="629.5" y="459.45" font-size="11.5" text-anchor="middle" fill="#4d4d4d">Slag</text>
<text x="351.1" y="253" font-size="13.4" font-weight="bold" fill="#000">(d)</text>
<text transform="translate(357.8,345.27) rotate(-90)" font-size="11.5" text-anchor="middle" fill="#000"><tspan font-size="12.4">ΔF</tspan><tspan font-size="9.2" dy="2.4">v</tspan><tspan dy="-1.4" dx="0.3" font-size="13.5">/</tspan><tspan dy="-1.0" dx="0.5" font-size="12.4">F</tspan><tspan font-size="9.2" dy="2.4">m</tspan></text>
</svg></body></html>
